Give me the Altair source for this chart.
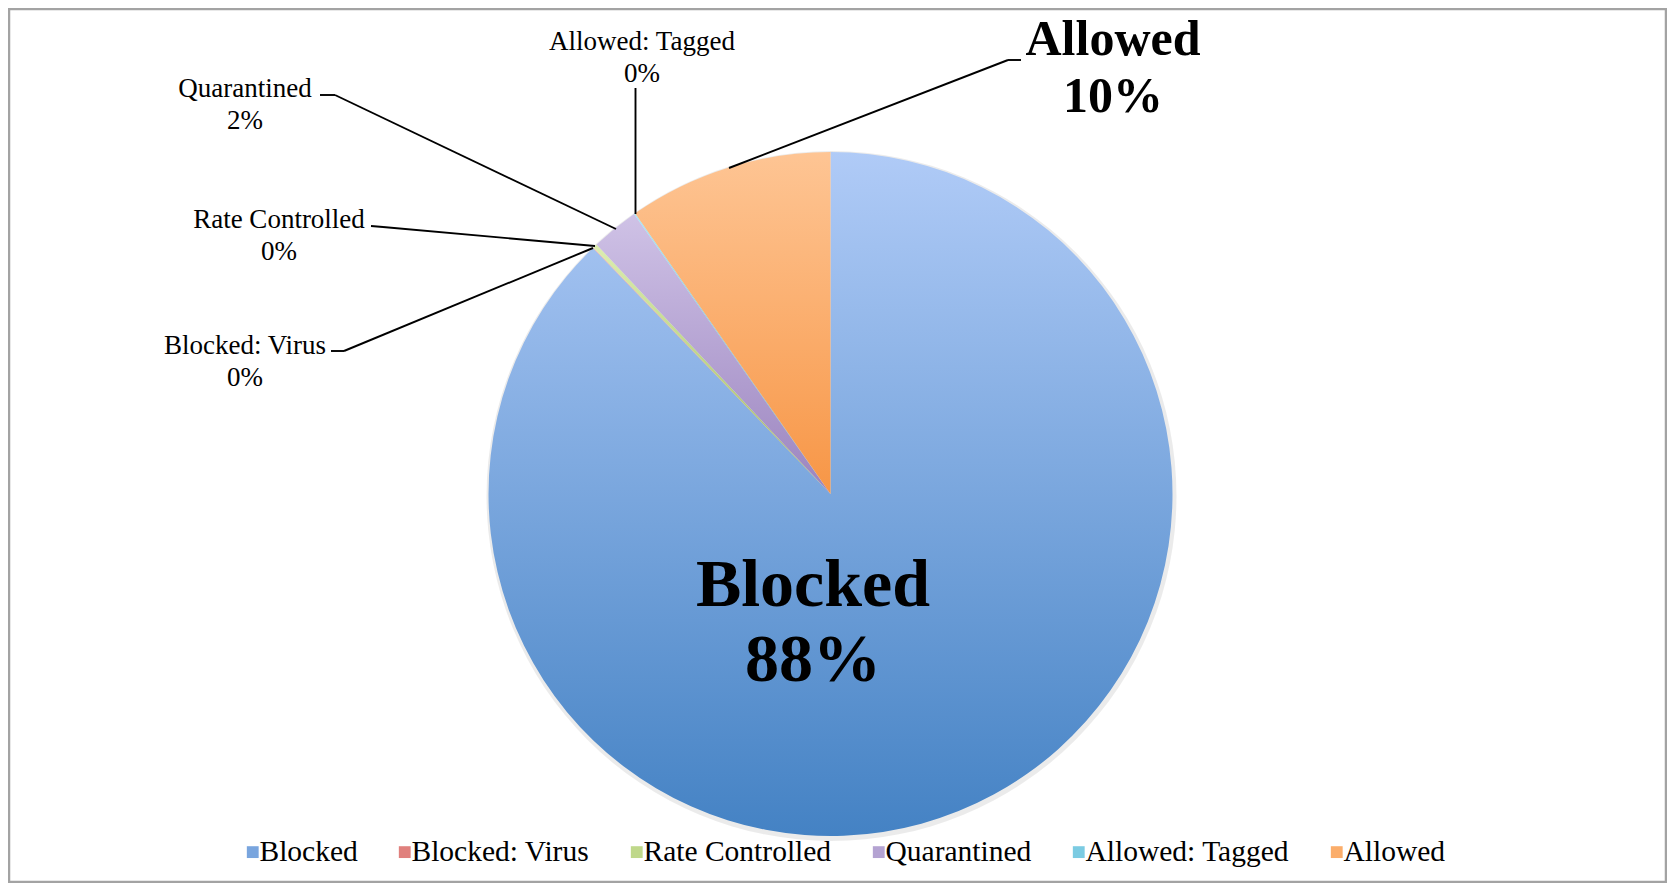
import math
import altair as alt
import pandas as pd

# ---- data ----
categories = ["Blocked", "Blocked: Virus", "Rate Controlled", "Quarantined", "Allowed: Tagged", "Allowed"]
shares = [87.78, 0.03, 0.20, 2.25, 0.06, 9.68]
slice_order = [0, 1, 2, 3, 4, 5]

# ---- styles ----
top_colors = ["#b0cbf7", "#f5aaa8", "#dcedb0", "#cfc2e6", "#a9e6f7", "#fec594"]
bottom_colors = ["#4482c4", "#c0504d", "#9bbb59", "#9b84bf", "#4bacc6", "#f79646"]
legend_colors = ["#79a5de", "#e0807d", "#bfd88a", "#b4a3d2", "#7bcbe2", "#fbad6a"]

FONT = "Liberation Serif"
W, H = 1659, 875
CX, CY, R = 822.5, 486, 342

df = pd.DataFrame({"cat": categories, "value": shares, "order": slice_order})
one = pd.DataFrame({"k": [0]})

base = (
    alt.Chart(df)
    .transform_joinaggregate(total="sum(value)")
    .transform_calculate(frac="datum.value / datum.total")
    .transform_window(cum="sum(frac)", sort=[alt.SortField("order", order="ascending")], frame=[None, 0])
    .transform_calculate(
        start="datum.cum - datum.frac",
        label="datum.cat + '\\n' + format(datum.frac, '.0%')",
    )
)

theta_scale = alt.Scale(domain=[0, 1], range=[0, 2 * math.pi])


def grad(top, bottom):
    return alt.LinearGradient(
        gradient="linear",
        stops=[alt.GradientStop(offset=0, color=top), alt.GradientStop(offset=1, color=bottom)],
        x1=0, x2=0, y1=0, y2=1,
    )


layers = []

# soft shadow behind the pie
layers.append(
    alt.Chart(one).mark_arc(radius=R + 3, theta=0, theta2=2 * math.pi, fill="#000000", opacity=0.08)
    .encode(x=alt.value(CX + 1), y=alt.value(CY + 2))
)

# slices with vertical gradients
for c, t, b in zip(categories, top_colors, bottom_colors):
    layers.append(
        base.transform_filter(alt.datum.cat == c)
        .mark_arc(radius=R, fill=grad(t, b))
        .encode(
            theta=alt.Theta("start:Q", scale=theta_scale, stack=None),
            theta2=alt.Theta2("cum"),
            x=alt.value(CX),
            y=alt.value(CY),
        )
    )

# invisible layer that carries the legend
layers.append(
    base.mark_arc(radius=R, opacity=0)
    .encode(
        theta=alt.Theta("start:Q", scale=theta_scale, stack=None),
        theta2=alt.Theta2("cum"),
        x=alt.value(CX),
        y=alt.value(CY),
        color=alt.Color(
            "cat:N",
            sort=categories,
            scale=alt.Scale(domain=categories, range=legend_colors),
            legend=alt.Legend(
                title=None,
                orient="none",
                legendX=230,
                legendY=829,
                direction="horizontal",
                columns=6,
                symbolType="square",
                symbolSize=140,
                symbolOpacity=1,
                symbolStrokeWidth=0,
                labelFont=FONT,
                labelFontSize=29.5,
                labelColor="#000000",
                labelOffset=alt.ExprRef(expr="-8"),
                labelLimit=500,
                columnPadding=32,
                padding=0,
            ),
        ),
    )
)

# leader lines (annotation geometry)
segments = [
    ((721, 160), (1000, 52)), ((1000, 52), (1013, 52)),
    ((627.5, 80), (627.5, 206)),
    ((312, 87), (327, 87)), ((327, 87), (608, 221)),
    ((363, 218), (375, 219)), ((375, 219), (587, 238)),
    ((323, 343), (336, 343)), ((336, 343), (585, 240)),
]
for (x1, y1), (x2, y2) in segments:
    layers.append(
        alt.Chart(one).mark_rule(color="#000000", strokeWidth=1.9)
        .encode(x=alt.value(x1), y=alt.value(y1), x2=alt.value(x2), y2=alt.value(y2))
    )

# data labels (text from the data, placement as annotation)
label_place = {
    "Blocked": (805, 597.5, 68, "bold", 75),
    "Allowed": (1105, 47, 50, "bold", 57),
    "Allowed: Tagged": (634, 42, 27, "normal", 32),
    "Quarantined": (237, 88.5, 27, "normal", 32),
    "Rate Controlled": (271, 219.5, 27, "normal", 32),
    "Blocked: Virus": (237, 345.5, 27, "normal", 32),
}
for c, (lx, ly, fs, fw, lh) in label_place.items():
    layers.append(
        base.transform_filter(alt.datum.cat == c)
        .mark_text(font=FONT, fontSize=fs, fontWeight=fw, lineBreak="\n", lineHeight=lh,
                   align="center", baseline="alphabetic", color="#000000")
        .encode(text="label:N", x=alt.value(lx), y=alt.value(ly))
    )

# outer frame
layers.append(
    alt.Chart(one).mark_rect(fillOpacity=0, stroke="#a3a3a3", strokeWidth=2.5)
    .encode(x=alt.value(1), y=alt.value(1), x2=alt.value(W - 1), y2=alt.value(H - 1))
)

chart = (
    alt.layer(*layers)
    .properties(width=W, height=H, padding=0, autosize=alt.AutoSizeParams(type="none"), background="#ffffff")
    .configure_view(strokeWidth=0)
)

chart.save("out.html", embed_options={"renderer": "svg", "actions": False})
